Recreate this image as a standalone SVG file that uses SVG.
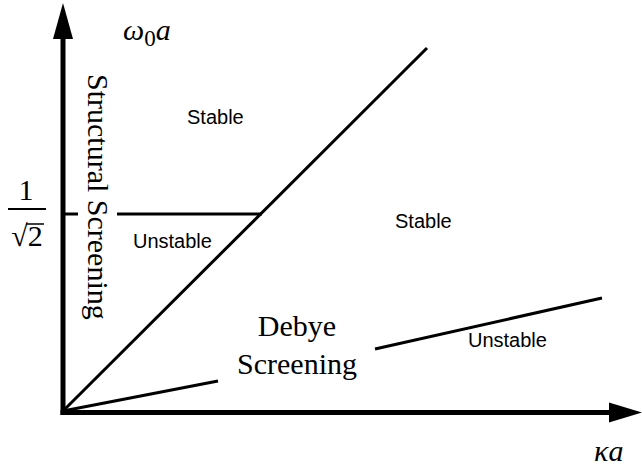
<svg xmlns="http://www.w3.org/2000/svg" width="642" height="470" viewBox="0 0 642 470">
<defs>
<style>
.ax{stroke:#000;stroke-width:5;fill:none}
.ln{stroke:#000;stroke-width:3;fill:none}
.sans{font-family:"Liberation Sans",Arial,sans-serif;font-size:20px;fill:#000}
.serif{font-family:"Liberation Serif","Times New Roman",serif;font-size:30px;fill:#000}
.it{font-style:italic}
</style>
</defs>
<rect width="642" height="470" fill="#fff"/>
<g id="axes">
<line class="ax" x1="63" y1="415" x2="63" y2="35"/>
<polygon points="63,3 53,39 73,39" fill="#000"/>
<line class="ax" x1="60.5" y1="412.5" x2="615" y2="412.5"/>
<polygon points="642,412.5 609,402.5 609,422.5" fill="#000"/>
</g>
<g id="connectors">
<line class="ln" x1="63" y1="411" x2="427" y2="48"/>
<line class="ln" x1="63" y1="214" x2="78" y2="214"/>
<line class="ln" x1="117" y1="214" x2="262" y2="214"/>
<line class="ln" x1="63" y1="411" x2="218" y2="381"/>
<line class="ln" x1="375" y1="349" x2="602" y2="298"/>
</g>
<g id="label-omega">
<text class="serif" x="123" y="40" font-size="38"><tspan class="it">ω</tspan><tspan font-size="23" dy="6">0</tspan><tspan class="it" dy="-6">a</tspan></text>
</g>
<g id="label-kappa">
<text class="serif it" x="594" y="461" font-size="40">κa</text>
</g>
<g id="label-frac">
<text class="serif" x="26" y="200" text-anchor="middle">1</text>
<line x1="8" y1="209" x2="46" y2="209" stroke="#000" stroke-width="2"/>
<text class="serif" x="27" y="246" text-anchor="middle">√2</text>
<line x1="26" y1="224" x2="44" y2="224" stroke="#000" stroke-width="1.5"/>
</g>
<g id="label-structural">
<text class="serif" transform="translate(88,74) rotate(90)">Structural Screening</text>
</g>
<g id="label-debye">
<text class="serif" x="297" y="336" text-anchor="middle">Debye</text>
<text class="serif" x="297" y="374" text-anchor="middle">Screening</text>
</g>
<g id="region-labels">
<text class="sans" x="187" y="124">Stable</text>
<text class="sans" x="133" y="248">Unstable</text>
<text class="sans" x="395" y="228">Stable</text>
<text class="sans" x="468" y="347">Unstable</text>
</g>
</svg>
